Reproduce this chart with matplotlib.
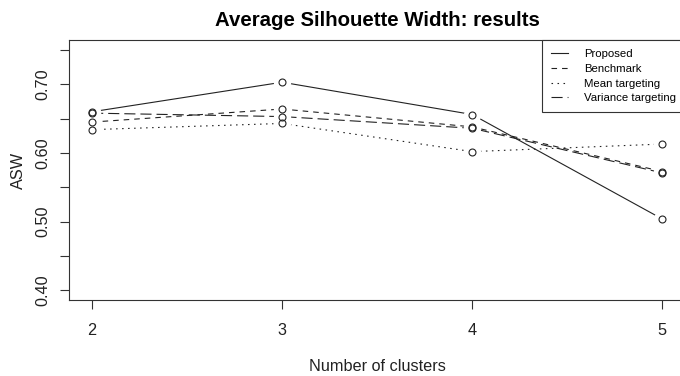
import matplotlib
matplotlib.use("Agg")
import matplotlib.pyplot as plt

plt.rcParams['font.family'] = ['Liberation Sans', 'DejaVu Sans']

# data
clusters = [2, 3, 4, 5]
proposed = [0.660, 0.703, 0.656, 0.504]
benchmark = [0.645, 0.664, 0.638, 0.573]
mean_targeting = [0.634, 0.643, 0.602, 0.613]
variance_targeting = [0.658, 0.653, 0.636, 0.571]

labels = ["Proposed", "Benchmark", "Mean targeting", "Variance targeting"]
series = [proposed, benchmark, mean_targeting, variance_targeting]
# R lty 1, 2, 3, 5
styles = ['-', (0, (5, 4.5)), (0, (1.4, 4.0)), (0, (10, 4.5))]

fig = plt.figure(figsize=(6.8, 3.76), dpi=100)
ax = fig.add_axes([0.1019, 0.2021, 0.9054, 0.6907])

for ys, ls, lab in zip(series, styles, labels):
    ax.plot(clusters, ys, color='#222222', lw=0.8, linestyle=ls, label=lab, zorder=2)
# gaps around the points, as in R type="b"
for ys in series:
    ax.plot(clusters, ys, linestyle='none', marker='o', ms=12.5,
            mfc='white', mec='none', zorder=3)
for ys in series:
    ax.plot(clusters, ys, linestyle='none', marker='o', ms=5,
            mfc='none', mec='#222222', mew=0.8, zorder=4)

ax.set_xlim(1.88, 5.12)
ax.set_ylim(0.386, 0.764)
ax.set_xticks(clusters)
ax.set_yticks([0.40, 0.45, 0.50, 0.55, 0.60, 0.65, 0.70, 0.75])
ax.set_yticklabels(["0.40", "", "0.50", "", "0.60", "", "0.70", ""], rotation=90, va='center')
ax.tick_params(axis='both', length=6.5, width=0.8, color='#333333', labelsize=11.7,
               labelcolor='#222222')
ax.tick_params(axis='x', pad=10)
ax.tick_params(axis='y', pad=7)
for s in ax.spines.values():
    s.set_color('#333333')
    s.set_linewidth(0.8)

ax.set_xlabel("Number of clusters", fontsize=11.7, color='#222222', labelpad=15)
ax.set_ylabel("ASW", fontsize=11.7, color='#222222', labelpad=7)
ax.set_title("Average Silhouette Width: results", fontsize=14.7, fontweight='bold',
             pad=10)

leg = ax.legend(loc='upper right', bbox_to_anchor=(1, 1), borderaxespad=0,
                fontsize=8.2, handlelength=1.5, handletextpad=1.4, borderpad=0.8,
                labelspacing=0.4, fancybox=False, framealpha=1)
leg.get_frame().set_edgecolor('#333333')
leg.get_frame().set_linewidth(0.8)

fig.savefig("out.png", dpi=100)
